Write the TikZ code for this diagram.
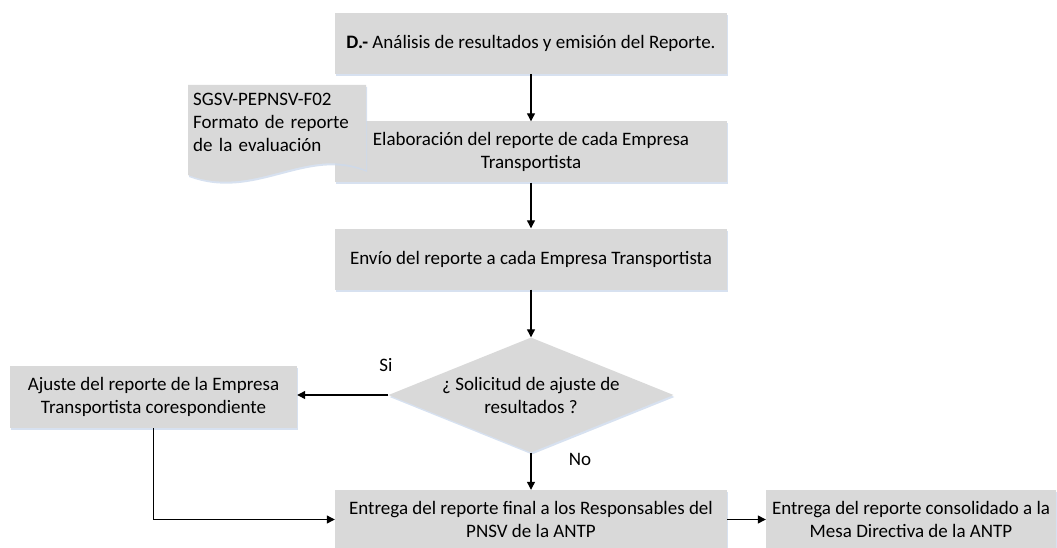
\documentclass[tikz,border=0pt]{standalone}
\usepackage{fontspec}
\setmainfont{Carlito}
\usetikzlibrary{arrows.meta}
\usetikzlibrary{shapes.geometric, shadows}
\definecolor{boxgray}{RGB}{217,217,217}
\definecolor{shadowblue}{RGB}{205,218,236}

\begin{document}
\begin{tikzpicture}[x=1pt, y=-1pt,
  every node/.style={font=\fontsize{19}{23}\selectfont},
  softshadow/.style={drop shadow={shadow xshift=1pt, shadow yshift=-2pt, fill=shadowblue, opacity=0.8}},
  proc/.style={fill=boxgray, align=center, minimum width=392pt, minimum height=61pt, inner sep=0pt, softshadow},
  decide/.style={diamond, fill=boxgray, aspect=2.48, minimum width=285pt, minimum height=115pt, inner sep=0pt, align=center, softshadow},
  flow/.style={-{Triangle[length=8pt,width=8pt]}, line width=1.2pt}]
\useasboundingbox (0,0) rectangle (1057,548);

\node[proc] (analisis) at (531,43.5) {\textbf{D.-} Análisis de resultados y emisión del Reporte.};
\node[proc] (elabora) at (531,152) {Elaboración del reporte de cada Empresa\\Transportista};
\node[proc] (envio) at (531,259) {Envío del reporte a cada Empresa Transportista};
\node[decide] (solicitud) at (531,395) {¿ Solicitud de ajuste de\\resultados ?};
\node[proc, minimum width=287pt, minimum height=62pt] (ajuste) at (153.5,397) {Ajuste del reporte de la Empresa\\Transportista corespondiente};
\node[proc, minimum height=59pt] (final) at (531,519.5) {Entrega del reporte final a los Responsables del\\PNSV de la ANTP};
\node[proc, minimum width=290pt, minimum height=59pt] (consolidado) at (911,519.5) {Entrega del reporte consolidado a la\\Mesa Directiva de la ANTP};

% formato (documento)
\path[fill=boxgray, softshadow] (188,85) -- (366,85) -- (366,170) .. controls (305,145) and (255,200) .. (188,175) -- cycle;
\node[anchor=north west, inner sep=0pt, text width=165pt, align=left] (formato) at (193,93) {SGSV-PEPNSV-F02\\\makebox[165pt][s]{Formato de reporte}\\de la evaluación};

\node (si) at (386,365) {Si};
\node (no) at (580,459) {No};

\draw[flow] (analisis) -- (elabora);
\draw[flow] (elabora) -- (envio);
\draw[flow] (envio) -- (solicitud);
\draw[flow] (solicitud.west) -- (solicitud.west -| ajuste.east);
\draw[flow] (solicitud) -- (final);
\draw[flow] (ajuste.south) |- (final.west);
\draw[flow] (final) -- (consolidado);
\end{tikzpicture}
\end{document}
